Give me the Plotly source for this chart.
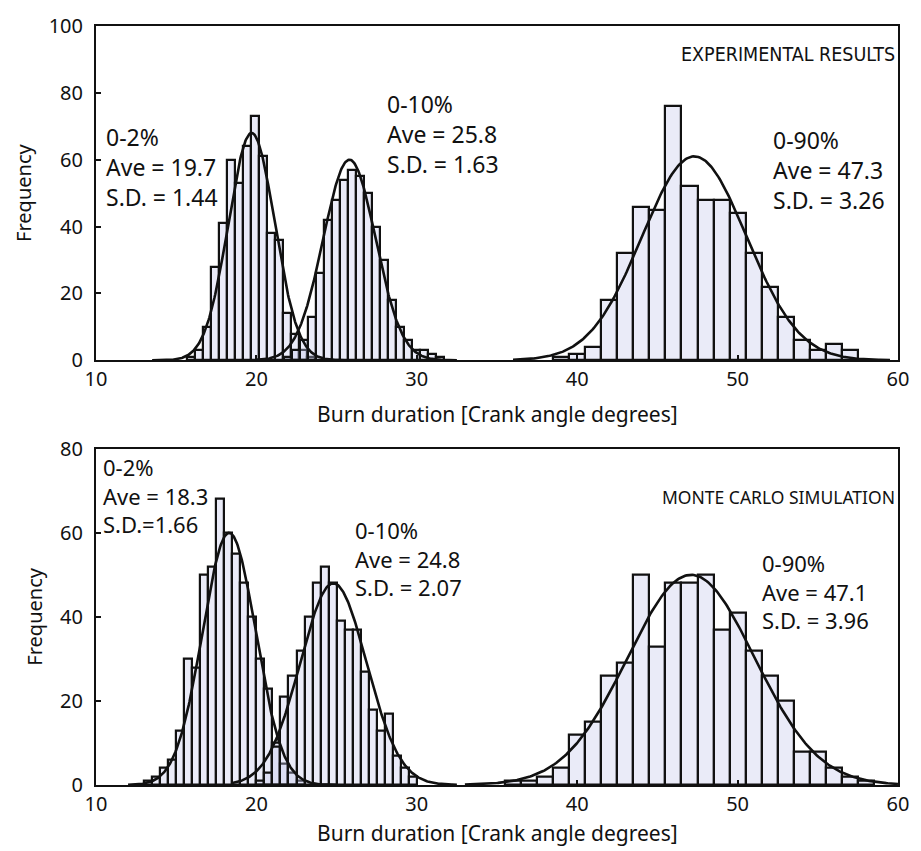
import numpy as np
import plotly.graph_objects as go

# ---------------- data ----------------
# Top panel: EXPERIMENTAL RESULTS
top_02_x = [15.9, 16.4, 16.9, 17.4, 17.9, 18.4, 18.9, 19.4, 19.9, 20.4, 20.9, 21.4, 21.9, 22.4, 22.9, 23.4]
top_02_y = [1, 3, 10, 28, 41, 60, 53, 64, 73, 61, 38, 36, 14, 8, 3, 1]

top_010_x = [21.95, 22.45, 22.95, 23.45, 23.95, 24.45, 24.95, 25.45, 25.95, 26.45,
             26.95, 27.45, 27.95, 28.45, 28.95, 29.45, 29.95, 30.45, 30.95, 31.45]
top_010_y = [1, 3, 6, 13, 26, 42, 48, 54, 57, 55, 50, 40, 30, 18, 10, 6, 3, 3, 2, 1]

top_090_x = [39, 40, 41, 42, 43, 44, 45, 46, 47, 48, 49, 50, 51, 52, 53, 54, 55, 56, 57]
top_090_y = [1, 2, 4, 18, 32, 46, 45, 76, 52, 48, 48, 44, 32, 22, 13, 6, 3, 5, 3]

# Bottom panel: MONTE CARLO SIMULATION
bot_02_x = [13.25, 13.75, 14.25, 14.75, 15.25, 15.75, 16.25, 16.75, 17.25, 17.75,
            18.25, 18.75, 19.25, 19.75, 20.25, 20.75, 21.25, 21.75, 22.25, 22.75]
bot_02_y = [1, 2, 4, 6, 13, 30, 28, 50, 52, 68, 60, 55, 48, 40, 30, 23, 10, 5, 3, 1]

bot_010_x = [20.25, 20.75, 21.25, 21.75, 22.25, 22.75, 23.25, 23.75, 24.25, 24.75,
             25.25, 25.75, 26.25, 26.75, 27.25, 27.75, 28.25, 28.75, 29.25, 29.75]
bot_010_y = [1, 3, 9, 21, 26, 32, 40, 48, 52, 48, 39, 37, 37, 27, 18, 13, 17, 7, 4, 2]

bot_090_x = [36, 37, 38, 39, 40, 41, 42, 43, 44, 45, 46, 47, 48, 49, 50, 51, 52, 53, 54, 55, 56, 57, 58]
bot_090_y = [1, 1, 2, 4, 12, 15, 26, 29, 50, 33, 48, 48, 50, 37, 41, 32, 26, 20, 8, 8, 4, 2, 1]

# fitted normal curves (parameters as annotated on the chart)
top_means = [19.7, 25.8, 47.3]
top_sds = [1.44, 1.63, 3.26]
top_peaks = [68, 60, 61]
top_spans = [(13.5, 25.5), (20.0, 32.5), (36.0, 59.5)]

bot_means = [18.3, 24.8, 47.1]
bot_sds = [1.66, 2.07, 3.96]
bot_peaks = [60, 48, 50]
bot_spans = [(12.0, 25.0), (18.5, 32.5), (33.0, 60.0)]

x_ticks = [10, 20, 30, 40, 50, 60]

# ---------------- figure ----------------
FILL = "rgba(196,200,236,0.36)"
LINE = "#111111"
FONT = "Noto Sans"

fig = go.Figure()


def add_bars(xs, ys, width, xa, ya):
    fig.add_trace(go.Bar(
        x=xs, y=ys, width=width, xaxis=xa, yaxis=ya,
        marker=dict(color=FILL, line=dict(color=LINE, width=2.2)),
        showlegend=False, hoverinfo="x+y"))


def add_curve(mean, sd, peak, span, xa, ya):
    xs = np.linspace(span[0], span[1], 300)
    ys = peak * np.exp(-0.5 * ((xs - mean) / sd) ** 2)
    fig.add_trace(go.Scatter(
        x=xs, y=ys, mode="lines", xaxis=xa, yaxis=ya,
        line=dict(color=LINE, width=2.6), showlegend=False, hoverinfo="skip"))


add_bars(top_02_x, top_02_y, 0.5, "x", "y")
add_bars(top_010_x, top_010_y, 0.5, "x", "y")
add_bars(top_090_x, top_090_y, 1.0, "x", "y")
for m, s, p, sp in zip(top_means, top_sds, top_peaks, top_spans):
    add_curve(m, s, p, sp, "x", "y")

add_bars(bot_02_x, bot_02_y, 0.5, "x2", "y2")
add_bars(bot_010_x, bot_010_y, 0.5, "x2", "y2")
add_bars(bot_090_x, bot_090_y, 1.0, "x2", "y2")
for m, s, p, sp in zip(bot_means, bot_sds, bot_peaks, bot_spans):
    add_curve(m, s, p, sp, "x2", "y2")

axis_common = dict(
    showline=True, linecolor=LINE, linewidth=2, mirror=True,
    ticks="inside", ticklen=5, tickwidth=1.5, tickcolor=LINE,
    showgrid=False, zeroline=False,
    tickfont=dict(family=FONT, size=20, color="#111"),
)

fig.update_layout(
    width=921, height=851,
    margin=dict(l=96, r=15, t=22, b=66),
    paper_bgcolor="white", plot_bgcolor="white",
    barmode="overlay", bargap=0,
    font=dict(family=FONT, color="#111"),
    xaxis=dict(domain=[0, 1], range=[10, 60], tickvals=x_ticks, anchor="y",
               ticklabelstandoff=0, **axis_common),
    yaxis=dict(domain=[0.5596, 1], range=[0, 100], dtick=20, anchor="x",
               ticklabelstandoff=7,
               title=dict(text="Frequency", font=dict(family=FONT, size=20), standoff=12),
               **axis_common),
    xaxis2=dict(domain=[0, 1], range=[10, 60], tickvals=x_ticks, anchor="y2",
                ticklabelstandoff=0, **axis_common),
    yaxis2=dict(domain=[0, 0.443], range=[0, 80], dtick=20, anchor="x2",
                ticklabelstandoff=7,
                title=dict(text="Frequency", font=dict(family=FONT, size=20), standoff=12),
                **axis_common),
)

ann = []


def block(x, y, lines, xref, yref, size):
    ann.append(dict(x=x, y=y, xref=xref, yref=yref, text="<br>".join(lines),
                    showarrow=False, align="left", xanchor="left", yanchor="middle",
                    font=dict(family=FONT, size=size, color="#111")))


def label(x, y, s, xref, yref, size, family=FONT):
    ann.append(dict(x=x, y=y, xref=xref, yref=yref, text=s, showarrow=False,
                    xanchor="right", yanchor="middle",
                    font=dict(family=family, size=size, color="#111")))


# top panel texts
block(10.5, 57.8, ["0-2%", "Ave = 19.7", "S.D. = 1.44"], "x", "y", 23)
block(28.0, 67.8, ["0-10%", "Ave = 25.8", "S.D. = 1.63"], "x", "y", 23)
block(52.1, 57.0, ["0-90%", "Ave = 47.3", "S.D. = 3.26"], "x", "y", 23)
label(59.95, 91.5, "EXPERIMENTAL RESULTS", "x", "y", 19.5,
      family="DejaVu Sans Condensed, Roboto, Liberation Sans")

# bottom panel texts
block(10.3, 68.9, ["0-2%", "Ave = 18.3", "S.D.=1.66"], "x2", "y2", 22)
block(26.0, 54.0, ["0-10%", "Ave = 24.8", "S.D. = 2.07"], "x2", "y2", 22)
block(51.4, 46.0, ["0-90%", "Ave = 47.1", "S.D. = 3.96"], "x2", "y2", 22)
label(59.95, 68.6, "MONTE CARLO SIMULATION", "x2", "y2", 17.5)

# x-axis titles
ann.append(dict(x=0.5, y=-0.16, xref="paper", yref="y domain",
                text="Burn duration [Crank angle degrees]", showarrow=False,
                xanchor="center", yanchor="middle",
                font=dict(family=FONT, size=21, color="#111")))
ann.append(dict(x=0.5, y=-0.142, xref="paper", yref="y2 domain",
                text="Burn duration [Crank angle degrees]", showarrow=False,
                xanchor="center", yanchor="middle",
                font=dict(family=FONT, size=21, color="#111")))

fig.update_layout(annotations=ann)
fig.write_html("out.html")
